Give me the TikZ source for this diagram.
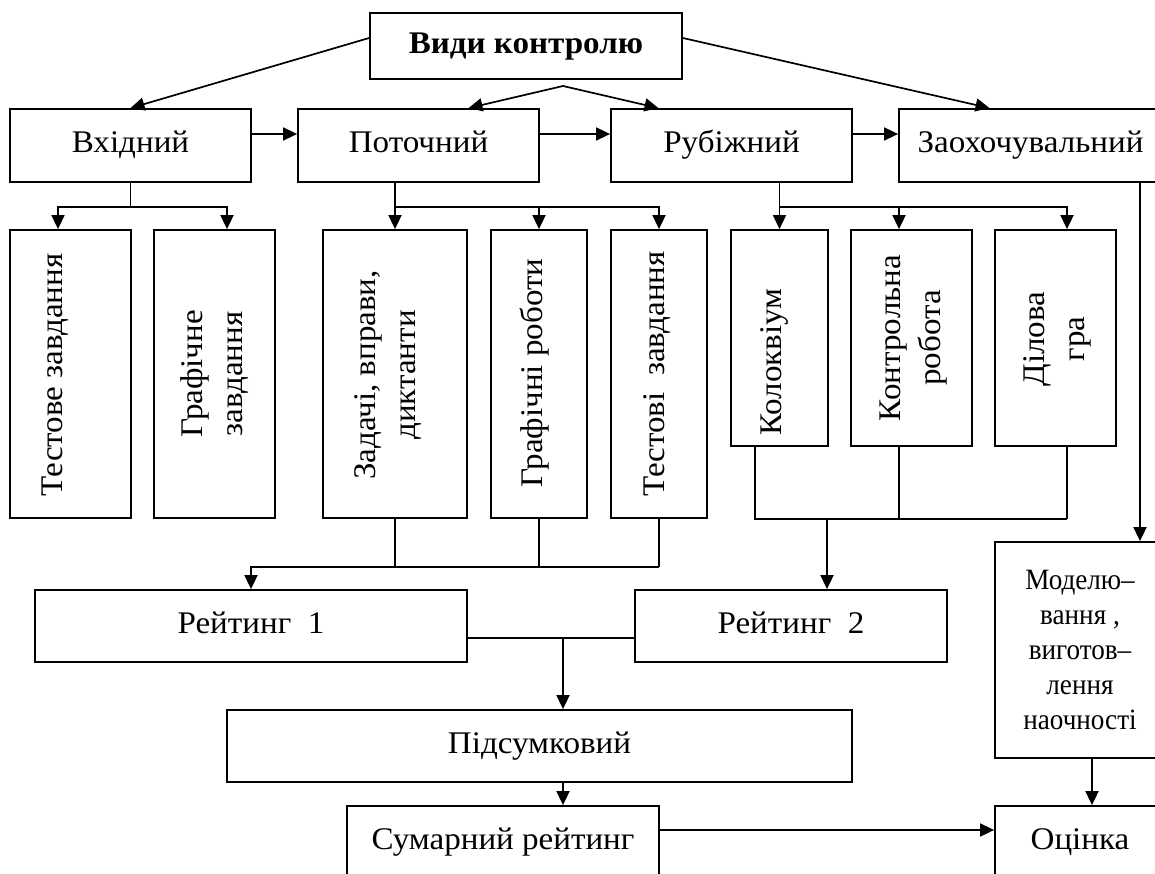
\documentclass[tikz,border=0pt]{standalone}
\usepackage{fontspec}
\setmainfont{Liberation Serif}[FakeStretch=1.05]
\newfontfamily\condfont{Liberation Serif}[FakeStretch=0.92]
\usetikzlibrary{arrows.meta,calc}
\begin{document}
\begin{tikzpicture}[x=1pt,y=-1pt,
  box/.style={draw, line width=1.8pt, inner sep=0pt, align=center, font=\fontsize{31.5}{40}\selectfont},
  hbox/.style={box, text height=21pt, text depth=6pt},
  vtext/.style={rotate=90, align=center, inner sep=0pt, font=\fontsize{31.5}{40}\selectfont},
  conn/.style={line width=1.7pt},
  arr/.style={conn, -{Triangle[length=14pt,width=13pt]}},
  darr/.style={conn, {Triangle[length=14pt,width=13pt]}-{Triangle[length=14pt,width=13pt]}},
]
\useasboundingbox (0,0) rectangle (1155,874);
\clip (0,0) rectangle (1155,874);

% top
\node[hbox, minimum width=312pt, minimum height=66pt, font=\fontsize{31.5}{40}\selectfont\bfseries] (vk) at (526,46) {Види контролю};

% row 2
\node[hbox, minimum width=241pt, minimum height=73pt] (vh) at (130.5,145.5) {Вхідний};
\node[hbox, minimum width=241pt, minimum height=73pt] (pot) at (418.5,145.5) {Поточний};
\node[hbox, minimum width=241pt, minimum height=73pt] (rb) at (731.5,145.5) {Рубіжний};
\node[hbox, minimum width=263pt, minimum height=73pt] (zh) at (1030.5,145.5) {Заохочувальний};

% row 3 boxes
\node[box, minimum width=121pt, minimum height=288pt] (tz) at (70.5,374) {};
\node[box, minimum width=121pt, minimum height=288pt] (gz) at (214.5,374) {};
\node[box, minimum width=144pt, minimum height=288pt] (zv) at (395,374) {};
\node[box, minimum width=96pt, minimum height=288pt] (gr) at (539,374) {};
\node[box, minimum width=96pt, minimum height=288pt] (tv) at (659,374) {};
\node[box, minimum width=97pt, minimum height=216pt] (kl) at (779.5,338) {};
\node[box, minimum width=121pt, minimum height=216pt] (kr) at (911.5,338) {};
\node[box, minimum width=121pt, minimum height=216pt] (dg) at (1055.5,338) {};

% row 3 texts
\node[vtext] (tzt) at (55,375) {Тестове завдання};
\node[vtext] (gzt) at (215,374) {Графічне\\завдання};
\node[vtext] (zvt) at (388,375) {Задачі, вправи,\\диктанти};
\node[vtext] (grt) at (535,373) {Графічні роботи};
\node[vtext] (tvt) at (657,374) {Тестові~~завдання};
\node[vtext] (klt) at (774,362) {Колоквіум};
\node[vtext] (krt) at (914,338) {Контрольна\\робота};
\node[vtext] (dgt) at (1057,339) {Ділова\\гра};

% lower boxes
\node[hbox, minimum width=432pt, minimum height=72pt] (r1) at (251,626) {Рейтинг~~1};
\node[hbox, minimum width=312pt, minimum height=72pt] (r2) at (791,626) {Рейтинг~~2};
\node[hbox, minimum width=625pt, minimum height=72pt] (ps) at (539.5,746) {Підсумковий};
\node[hbox, minimum width=312pt, minimum height=72pt] (sr) at (503,842) {Сумарний рейтинг};
\node[hbox, minimum width=170pt, minimum height=72pt] (oc) at (1080,842) {Оцінка};
\node[box, minimum width=170pt, minimum height=216pt, font=\condfont\fontsize{29.5}{35}\selectfont] (md) at (1080,650) {Моделю–\\вання ,\\виготов–\\лення\\наочності};

% top connectors
\draw[arr] ([yshift=8pt]vk.west) -- (vh.north);
\coordinate (apex) at (563,86);
\draw[darr] ([xshift=50pt]pot.north) -- (apex) -- ([xshift=-73pt]rb.north);
\draw[arr] ([yshift=8pt]vk.east) -- ([xshift=-41pt]zh.north);

% horizontal
\draw[arr] ([yshift=11.5pt]vh.east) -- ([yshift=11.5pt]pot.west);
\draw[arr] ([yshift=11.5pt]pot.east) -- ([yshift=11.5pt]rb.west);
\draw[arr] ([yshift=11.5pt]rb.east) -- ([yshift=11.5pt]zh.west);

% branches
\draw[conn] (vh.south) -- ++(0,24) coordinate (b1);
\draw[arr] (b1) -| ([xshift=-12.5pt]tz.north);
\draw[arr] (b1) -| ([xshift=12.5pt]gz.north);

\draw[conn] ([xshift=-23.5pt]pot.south) -- ++(0,24) coordinate (b2);
\draw[arr] (b2) -- (zv.north);
\draw[arr] (b2) -| (gr.north);
\draw[arr] (b2) -| (tv.north);

\draw[conn] (rb.south -| kl.north) -- ++(0,24) coordinate (b3);
\draw[arr] (b3) -- (kl.north);
\draw[arr] (b3) -| ([xshift=-12.5pt]kr.north);
\draw[arr] (b3) -| ([xshift=11.5pt]dg.north);

% joins
\draw[conn] (tv.south) -- ++(0,48) coordinate (j1);
\draw[conn] (zv.south) -- (zv.south |- j1);
\draw[conn] (gr.south) -- (gr.south |- j1);
\draw[arr] (j1) -| (r1.north);

\coordinate (klo) at ([xshift=-24.5pt]kl.south);
\coordinate (kro) at ([xshift=-12.5pt]kr.south);
\draw[conn] ([xshift=11.5pt]dg.south) -- ++(0,72) coordinate (j2);
\draw[conn] (klo) -- (klo |- j2) -- (j2);
\draw[conn] (kro) -- (kro |- j2);
\coordinate (r2in) at ([xshift=36pt]r2.north);
\draw[arr] (r2in |- j2) -- (r2in);

\coordinate (m1) at ([yshift=-12pt]r1.east);
\draw[conn] (m1) -- ([yshift=-12pt]r2.west);
\coordinate (psin) at ([xshift=23.5pt]ps.north);
\draw[arr] (psin |- m1) -- (psin);
\draw[arr] ([xshift=23.5pt]ps.south) -- ([xshift=60pt]sr.north);
\draw[arr] ([yshift=12pt]sr.east) -- ([yshift=12pt]oc.west);

\coordinate (zhout) at ([xshift=109.5pt]zh.south);
\draw[arr] (zhout) -- (zhout |- md.north);
\draw[arr] ([xshift=12pt]md.south) -- ([xshift=12pt]oc.north);
\end{tikzpicture}
\end{document}
